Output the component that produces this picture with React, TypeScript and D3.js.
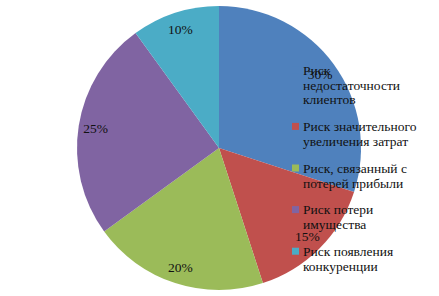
import React from "react";
import * as d3 from "d3";

const categories = [
  "Риск недостаточности клиентов",
  "Риск значительного увеличения затрат",
  "Риск, связанный с потерей прибыли",
  "Риск потери имущества",
  "Риск появления конкуренции",
];
const values = [30, 15, 20, 25, 10];
const legendLines = [
  ["Риск", "недостаточности", "клиентов"],
  ["Риск значительного", "увеличения затрат"],
  ["Риск, связанный с", "потерей прибыли"],
  ["Риск потери", "имущества"],
  ["Риск появления", "конкуренции"],
];
const colors = ["#4F81BD", "#C0504D", "#9BBB59", "#8064A2", "#4BACC6"];

export default function App() {
  const W = 439, H = 296;
  const cx = 219, cy = 148, r = 142;
  const pie = d3.pie<number>().sort(null).value((d) => d);
  const arcs = pie(values);
  const arc = d3.arc<d3.PieArcDatum<number>>().innerRadius(0).outerRadius(r);
  const labelArc = d3.arc<d3.PieArcDatum<number>>().innerRadius(125).outerRadius(125);
  const total = d3.sum(values);
  const font = "Liberation Serif";
  const fs = 13.5;
  const lineH = 14.8;
  const gap = 12;
  let y = 70;
  const legendY: number[] = [];
  legendLines.forEach((ls) => {
    legendY.push(y);
    y += ls.length * lineH + gap;
  });
  return (
    <svg width={W} height={H} style={{ position: "absolute", left: 0, top: 0 }}>
      <rect width={W} height={H} fill="#fff" />
      <g transform={`translate(${cx},${cy})`}>
        {arcs.map((a, i) => (
          <path key={i} d={arc(a) || ""} fill={colors[i]} />
        ))}
        {arcs.map((a, i) => {
          const [x, yy] = labelArc.centroid(a);
          return (
            <text key={i} x={x} y={yy} dy="0.35em" textAnchor="middle" style={{ fontFamily: font, fontSize: fs }} fill="#111">
              {Math.round((a.data / total) * 100)}%
            </text>
          );
        })}
      </g>
      <g>
        {legendLines.map((ls, i) => (
          <g key={i}>
            <rect x={292} y={legendY[i] - 3.5} width={7} height={7} fill={colors[i]} />
            {ls.map((l, j) => (
              <text key={j} x={303} y={legendY[i] + j * lineH} dy="0.35em" style={{ fontFamily: font, fontSize: fs }} fill="#111">
                {l}
              </text>
            ))}
          </g>
        ))}
      </g>
    </svg>
  );
}
